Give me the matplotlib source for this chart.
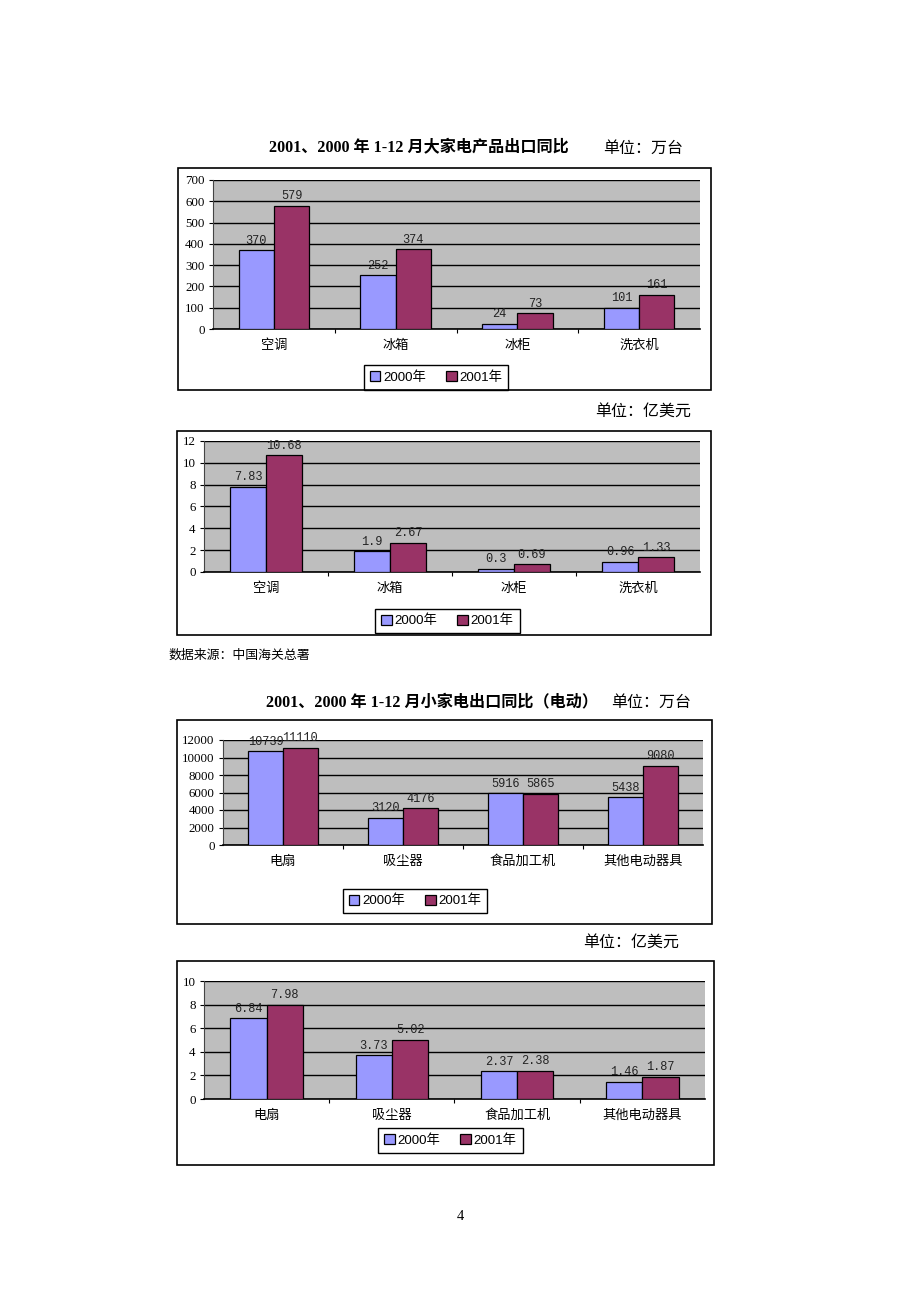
import numpy as np
import matplotlib
matplotlib.use('Agg')
import matplotlib.pyplot as plt
from matplotlib.patches import Rectangle

cats_big = ['空调', '冰箱', '冰柜', '洗衣机']
big_qty_2000 = [370, 252, 24, 101]
big_qty_2001 = [579, 374, 73, 161]
big_val_2000 = [7.83, 1.9, 0.3, 0.96]
big_val_2001 = [10.68, 2.67, 0.69, 1.33]

cats_small = ['电扇', '吸尘器', '食品加工机', '其他电动器具']
small_qty_2000 = [10739, 3120, 5916, 5438]
small_qty_2001 = [11110, 4176, 5865, 9080]
small_val_2000 = [6.84, 3.73, 2.37, 1.46]
small_val_2001 = [7.98, 5.02, 2.38, 1.87]

series_names = ['2000年', '2001年']

W, H = 920, 1302
SERIF = ['Liberation Serif', 'Noto Sans CJK SC']
SANS = ['Liberation Sans', 'Noto Sans CJK SC']
CJK = ['Noto Sans CJK SC', 'DejaVu Sans']
MONO = ['Liberation Mono', 'DejaVu Sans Mono']
c2000 = '#9999FF'
c2001 = '#993366'

fig = plt.figure(figsize=(W / 100, H / 100), dpi=100)
fig.patch.set_facecolor('white')


def fx(x):
    return x / W


def fy(y):
    return 1 - y / H


def box(x0, y0, x1, y1):
    fig.patches.append(Rectangle((fx(x0), fy(y1)), fx(x1) - fx(x0), fy(y0) - fy(y1),
                                 transform=fig.transFigure, fill=False,
                                 edgecolor='black', lw=1.2))


def chart(plot, frame, legend, cats, v0, v1, ymax, ystep):
    x0, y0, x1, y1 = plot
    ax = fig.add_axes([fx(x0), fy(y1), fx(x1) - fx(x0), fy(y0) - fy(y1)])
    ax.set_facecolor('#BEBEBE')
    x = np.arange(len(cats))
    w = 0.29
    b0 = ax.bar(x - w / 2, v0, w, color=c2000, edgecolor='black', lw=0.9, zorder=3,
                label=series_names[0])
    b1 = ax.bar(x + w / 2, v1, w, color=c2001, edgecolor='black', lw=0.9, zorder=3,
                label=series_names[1])
    for bars, vals in ((b0, v0), (b1, v1)):
        for r, v in zip(bars, vals):
            ax.annotate(f'{v:g}', (r.get_x() + r.get_width() / 2, v),
                        xytext=(0, 2.5), textcoords='offset points',
                        ha='center', va='bottom', fontsize=8.6, family=MONO,
                        color='#222222', zorder=4, annotation_clip=False)
    ax.set_xlim(-0.5, len(cats) - 0.5)
    ax.set_ylim(0, ymax)
    ax.set_yticks(np.arange(0, ymax + ystep / 2, ystep))
    ax.yaxis.grid(True, color='black', lw=1.0, zorder=1)
    ax.set_axisbelow(True)
    ax.set_xticks(x)
    ax.set_xticklabels(cats, family=CJK, fontsize=9.5)
    ax.set_xticks(np.arange(0.5, len(cats) - 0.5, 1), minor=True)
    ax.tick_params(axis='x', which='major', length=0, pad=7)
    ax.tick_params(axis='x', which='minor', length=3, direction='out', width=0.8)
    ax.tick_params(axis='y', length=3, direction='out', width=0.8, pad=3)
    for t in ax.get_yticklabels():
        t.set_family(SERIF)
        t.set_fontsize(9.3)
    for s in ('top', 'right'):
        ax.spines[s].set_visible(False)
    ax.spines['left'].set_color('#444444')
    ax.spines['bottom'].set_color('black')
    ax.spines['bottom'].set_linewidth(1.2)
    box(*frame)
    lx0, ly0, lx1, ly1 = legend
    leg = ax.legend(loc='center', bbox_to_anchor=(fx((lx0 + lx1) / 2), fy((ly0 + ly1) / 2)),
                    bbox_transform=fig.transFigure, ncol=2, frameon=True, fancybox=False,
                    edgecolor='black', framealpha=1, handlelength=0.8, handleheight=0.8,
                    handletextpad=0.2, columnspacing=1.5, borderpad=0.45,
                    prop={'family': SANS, 'size': 9.6})
    leg.get_frame().set_linewidth(1.0)
    return ax


# chart 1
fig.text(fx(419), fy(148), '2001、2000 年 1-12 月大家电产品出口同比', ha='center', va='center',
         family=SERIF, fontsize=11.6, fontweight='bold')
fig.text(fx(643), fy(148), '单位：万台', ha='center', va='center', family=CJK, fontsize=11.5)
chart((213, 180, 700, 329), (178, 168, 711, 390), (364, 366, 508, 389),
      cats_big, big_qty_2000, big_qty_2001, 700, 100)

# chart 2
fig.text(fx(643), fy(411), '单位：亿美元', ha='center', va='center', family=CJK, fontsize=11.5)
chart((204, 441, 700, 572), (177, 431, 711, 635), (374, 608, 521, 634),
      cats_big, big_val_2000, big_val_2001, 12, 2)
fig.text(fx(168), fy(655), '数据来源：中国海关总署', ha='left', va='center', family=CJK, fontsize=9.3)

# chart 3
fig.text(fx(432), fy(702), '2001、2000 年 1-12 月小家电出口同比（电动）', ha='center', va='center',
         family=SERIF, fontsize=11.6, fontweight='bold')
fig.text(fx(651), fy(702), '单位：万台', ha='center', va='center', family=CJK, fontsize=11.5)
chart((223, 740, 703, 845), (177, 720, 712, 924), (341, 888, 489, 914),
      cats_small, small_qty_2000, small_qty_2001, 12000, 2000)

# chart 4
fig.text(fx(631), fy(942), '单位：亿美元', ha='center', va='center', family=CJK, fontsize=11.5)
chart((204, 981, 705, 1099), (177, 961, 714, 1165), (377, 1128, 524, 1153),
      cats_small, small_val_2000, small_val_2001, 10, 2)

fig.text(fx(460), fy(1216), '4', ha='center', va='center', family=SERIF, fontsize=10.5)

fig.savefig('out.png', dpi=100)
